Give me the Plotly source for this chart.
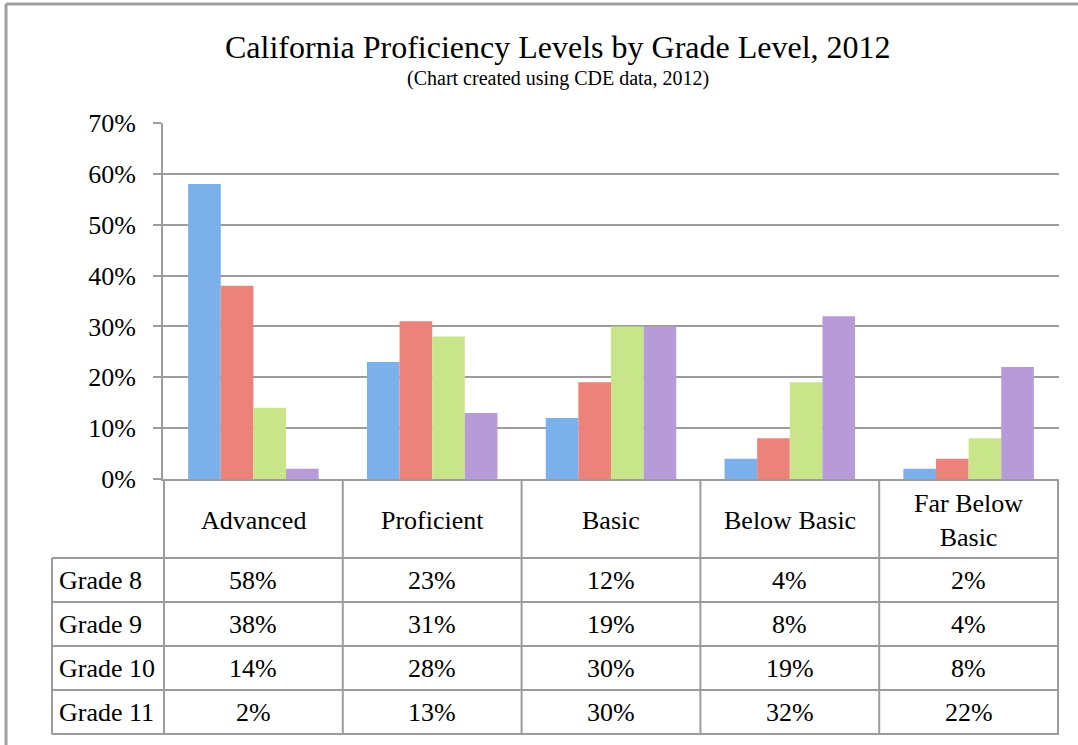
import plotly.graph_objects as go

# ---- data ----
categories = ["Advanced", "Proficient", "Basic", "Below Basic", "Far Below Basic"]
header_labels = ["Advanced", "Proficient", "Basic", "Below Basic", "Far Below<br>Basic"]
series_names = ["Grade 8", "Grade 9", "Grade 10", "Grade 11"]
grade8 = [0.58, 0.23, 0.12, 0.04, 0.02]
grade9 = [0.38, 0.31, 0.19, 0.08, 0.04]
grade10 = [0.14, 0.28, 0.30, 0.19, 0.08]
grade11 = [0.02, 0.13, 0.30, 0.32, 0.22]
series_values = [grade8, grade9, grade10, grade11]
y_ticks = [0, 0.1, 0.2, 0.3, 0.4, 0.5, 0.6, 0.7]

title_text = "California Proficiency Levels by Grade Level, 2012"
subtitle_text = "(Chart created using CDE data, 2012)"

# ---- styling ----
colors = ["#7CB0EA", "#EC8279", "#C8E689", "#B79BD8"]
FONT = "'Times New Roman', 'Liberation Serif', 'DejaVu Serif', serif"
GRID = "#9C9C9C"
W, H = 1078, 745
L, R, T, B = 163, 1059, 123, 479  # plot area in pixels

def px_x(px):
    return (px - L) / (R - L)

def px_y(py):
    return (B - py) / (B - T)

fig = go.Figure()
for name, vals, col in zip(series_names, series_values, colors):
    fig.add_trace(go.Bar(x=categories, y=vals, name=name,
                         marker=dict(color=col, line=dict(width=0)),
                         showlegend=False))

fig.update_layout(
    width=W, height=H,
    margin=dict(l=L, r=W - R, t=T, b=H - B, pad=0),
    paper_bgcolor="white", plot_bgcolor="white",
    barmode="group", bargap=0.27, bargroupgap=0,
    font=dict(family=FONT, color="black", size=26),
    showlegend=False,
)
fig.update_yaxes(range=[0, 0.7], tickvals=y_ticks, tickformat=".0%",
                 showgrid=True, gridcolor=GRID, gridwidth=2,
                 showline=True, linecolor=GRID, linewidth=2,
                 ticks="outside", ticklen=8, tickcolor=GRID, tickwidth=2,
                 ticklabelstandoff=12,
                 tickfont=dict(family=FONT, size=26, color="black"),
                 zeroline=False, fixedrange=True)
fig.update_xaxes(showticklabels=False, showline=True, linecolor=GRID, linewidth=2,
                 showgrid=False, ticks="", zeroline=False, fixedrange=True)

shapes = []
line = dict(color=GRID, width=2)
row_lines = [558, 602, 646, 690, 734]
for py in row_lines:
    shapes.append(dict(type="line", xref="paper", yref="paper",
                       x0=px_x(52), x1=px_x(1059), y0=px_y(py), y1=px_y(py), line=line))
n = len(categories)
for i in range(n + 1):
    shapes.append(dict(type="line", xref="x", yref="paper",
                       x0=i - 0.5, x1=i - 0.5, y0=px_y(479), y1=px_y(734), line=line))
shapes.append(dict(type="line", xref="paper", yref="paper",
                   x0=px_x(52), x1=px_x(52), y0=px_y(558), y1=px_y(734), line=line))
# outer chart frame (top and left visible)
shapes.append(dict(type="line", xref="paper", yref="paper",
                   x0=px_x(6), x1=px_x(1090), y0=px_y(4), y1=px_y(4),
                   line=dict(color="#A0A0A0", width=3)))
shapes.append(dict(type="line", xref="paper", yref="paper",
                   x0=px_x(6), x1=px_x(6), y0=px_y(4), y1=px_y(760),
                   line=dict(color="#A0A0A0", width=3)))
fig.update_layout(shapes=shapes)

ann = []
ann.append(dict(text=title_text, xref="paper", yref="paper", x=px_x(558), y=px_y(47),
                xanchor="center", yanchor="middle", showarrow=False,
                font=dict(family=FONT, size=32, color="black")))
ann.append(dict(text=subtitle_text, xref="paper", yref="paper", x=px_x(558), y=px_y(78),
                xanchor="center", yanchor="middle", showarrow=False,
                font=dict(family=FONT, size=20, color="black")))
for cat, lab in zip(categories, header_labels):
    ann.append(dict(text=lab, xref="x", yref="paper", x=cat, y=px_y(520),
                    xanchor="center", yanchor="middle", showarrow=False,
                    font=dict(family=FONT, size=26, color="black")))
for r, (name, vals) in enumerate(zip(series_names, series_values)):
    cy = (row_lines[r] + row_lines[r + 1]) / 2
    ann.append(dict(text=name, xref="paper", yref="paper", x=px_x(57), y=px_y(cy),
                    xanchor="left", yanchor="middle", showarrow=False,
                    font=dict(family=FONT, size=26, color="black")))
    for cat, v in zip(categories, vals):
        ann.append(dict(text=f"{round(v * 100)}%", xref="x", yref="paper", x=cat, y=px_y(cy),
                        xanchor="center", yanchor="middle", showarrow=False,
                        font=dict(family=FONT, size=26, color="black")))
fig.update_layout(annotations=ann)

fig.write_html("out.html", config={"displayModeBar": False},
               post_script="document.body.style.margin='0px';document.body.style.overflow='hidden';")
